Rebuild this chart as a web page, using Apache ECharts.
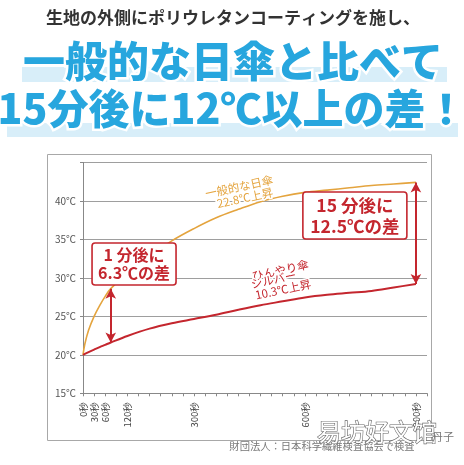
<!DOCTYPE html>
<html><head><meta charset="utf-8">
<script src="https://cdn.jsdelivr.net/npm/echarts@6/dist/echarts.min.js"></script>
<style>html,body{margin:0;padding:0;background:#fff}#c{width:464px;height:465px}</style>
</head><body><div id="c"></div>
<script>
// time in seconds
const times = [0, 5, 15, 30, 45, 60, 75, 120, 180, 240, 300, 360, 420, 480, 540, 600, 660, 720, 780, 840, 900];
// 一般的な日傘 (℃)
const normalUmbrella = [20, 21.4, 23.2, 25.0, 26.4, 27.6, 28.6, 30.6, 32.8, 34.8, 36.4, 37.8, 38.9, 39.9, 40.6, 41.1, 41.4, 41.7, 42.0, 42.2, 42.4];
// ひんやり傘シルバー (℃)
const coolUmbrella = [20, 20.12, 20.35, 20.68, 21.0, 21.3, 21.6, 22.45, 23.4, 24.1, 24.65, 25.2, 25.85, 26.45, 26.95, 27.45, 27.8, 28.05, 28.3, 28.75, 29.2];
const xLabelTimes = [0, 30, 60, 120, 300, 600, 900];
const arrowTimes = [75, 900];

const titleLine1 = '生地の外側にポリウレタンコーティングを施し、';
const titleLine2 = '一般的な日傘と比べて';
const titleLine3 = '15分後に12℃以上の差！';
const box1Lines = ['1 分後に', '6.3℃の差'];
const box2Lines = ['15 分後に', '12.5℃の差'];
const normalLabel = ['一般的な日傘', '22.8℃上昇'];
const coolLabel = ['ひんやり傘', 'シルバー', '10.3℃上昇'];
const footer = '財団法人：日本科学繊維検査協会で検査';

const JP = '"Noto Sans CJK JP", "Noto Sans", sans-serif';
const RED = '#c4262e';
const ORANGE = '#e4a43e';
const BLUE = '#27a6de';

const chart = echarts.init(document.getElementById('c'), null, {renderer: 'canvas'});
const pair = (arr) => times.map((t, i) => [t, arr[i]]);
const valAt = (arr, t) => arr[times.indexOf(t)];

chart.setOption({
  animation: false,
  grid: {left: 83, right: 37, top: 162.4, bottom: 71.7},
  xAxis: {
    type: 'value', min: 0, max: 930, interval: 30,
    axisLine: {lineStyle: {color: '#888', width: 1}},
    axisTick: {show: true, length: 3, lineStyle: {color: '#888'}},
    splitLine: {show: false},
    axisLabel: {
      rotate: 90, interval: 0, margin: 9, fontSize: 9.5, color: '#444', fontFamily: JP,
      padding: [8, 0, 0, 0],
      showMaxLabel: true,
      formatter: v => xLabelTimes.includes(v) ? v + '秒' : ''
    }
  },
  yAxis: {
    type: 'value', min: 15, max: 45, interval: 5,
    axisLine: {show: true, lineStyle: {color: '#888'}},
    axisTick: {show: true, length: 3, lineStyle: {color: '#888'}},
    splitLine: {lineStyle: {color: '#9e9e9e', width: 1}},
    axisLabel: {fontSize: 10, color: '#555', fontFamily: JP, margin: 7,
      formatter: v => v === 45 ? '' : v + '℃'}
  },
  series: [
    {
      name: '一般的な日傘', type: 'line', data: pair(normalUmbrella), smooth: 0.35,
      showSymbol: false, lineStyle: {color: ORANGE, width: 1.6}, z: 3
    },
    {
      name: 'ひんやり傘シルバー', type: 'line', data: pair(coolUmbrella), smooth: 0.35,
      showSymbol: false, lineStyle: {color: RED, width: 2}, z: 3,
      markLine: {
        silent: true, symbol: ['arrow', 'arrow'], symbolSize: [8, 10],
        label: {show: false},
        lineStyle: {color: RED, width: 2, type: 'solid'},
        data: arrowTimes.map(t => [
          {coord: [t, valAt(normalUmbrella, t)]},
          {coord: [t, valAt(coolUmbrella, t)]}
        ])
      }
    }
  ]
});

const px = (t, v) => chart.convertToPixel({gridIndex: 0}, [t, v]);
const deg = Math.PI / 180;

function txt(x, y, text, font, fill, extra) {
  return {
    type: 'text', x: x, y: y, z: 10,
    style: Object.assign({text: text, font: font, fill: fill, textAlign: 'center', textVerticalAlign: 'middle'}, extra || {})
  };
}
function box(cx, cy, w, h, lines, fs, lh) {
  const els = [{
    type: 'rect', z: 20, shape: {x: cx - w / 2, y: cy - h / 2, width: w, height: h, r: 3},
    style: {fill: '#fff', stroke: RED, lineWidth: 1.6}
  }];
  lines.forEach((l, i) => {
    els.push({type: 'text', z: 21, x: cx, y: cy + (i - (lines.length - 1) / 2) * lh,
      style: {text: l, font: 'bold ' + fs + 'px ' + JP, fill: RED, textAlign: 'center', textVerticalAlign: 'middle'}});
  });
  return els;
}

const b1 = px(138, 31.8);
const b2 = px(735, 38.1);
const oL1 = px(422, 41.85), oL2 = px(438, 40.4);
const rL1 = px(533, 31.0), rL2 = px(515, 29.8), rL3 = px(541, 28.5);

const halo = {stroke: '#fff', lineWidth: 3, strokeFirst: true};
const titleStyle = {stroke: '#fff', lineWidth: 5, strokeFirst: true, shadowColor: 'rgba(0,0,0,0.25)', shadowBlur: 3, shadowOffsetY: 1};

const graphics = [
  {type: 'rect', z: 0, shape: {x: 47.5, y: 154.5, width: 384, height: 286}, style: {fill: 'none', stroke: '#a8a8a8', lineWidth: 1}},
  {type: 'rect', z: 1, shape: {x: 22, y: 67, width: 425, height: 15}, style: {fill: '#d8eef9'}},
  {type: 'rect', z: 1, shape: {x: 7, y: 123, width: 451, height: 14}, style: {fill: '#d8eef9'}},
  txt(233, 18, titleLine1, 'bold 17px ' + JP, '#333'),
  txt(233, 61, titleLine2, '900 42px ' + JP, BLUE, titleStyle),
  txt(232, 108, titleLine3, '900 41px ' + JP, BLUE, titleStyle),
  txt(oL1[0], oL1[1], normalLabel[0], '11.5px ' + JP, ORANGE, halo),
  txt(oL2[0], oL2[1], normalLabel[1], '11.5px ' + JP, ORANGE, halo),
  txt(rL1[0], rL1[1], coolLabel[0], '11.5px ' + JP, RED, halo),
  txt(rL2[0], rL2[1], coolLabel[1], '11.5px ' + JP, RED, halo),
  txt(rL3[0], rL3[1], coolLabel[2], '11.5px ' + JP, RED, halo),
  ...box(b1[0], b1[1], 84, 42, box1Lines, 16, 18),
  ...box(b2[0], b2[1], 104, 47, box2Lines, 17.5, 21),
  txt(322, 446, footer, '10.3px ' + JP, '#777'),
  txt(377, 432, '易坊好文馆', '24px "Noto Sans CJK SC", sans-serif', '#fff', {stroke: '#666', lineWidth: 1.2}),
  txt(443, 437, '丹子', '11px ' + JP, '#777')
];
// rotate the sloped labels
[6, 7, 8, 9, 10].forEach(i => { graphics[i].rotation = 12 * deg; });

chart.setOption({graphic: {elements: graphics}});
</script>
</body></html>
